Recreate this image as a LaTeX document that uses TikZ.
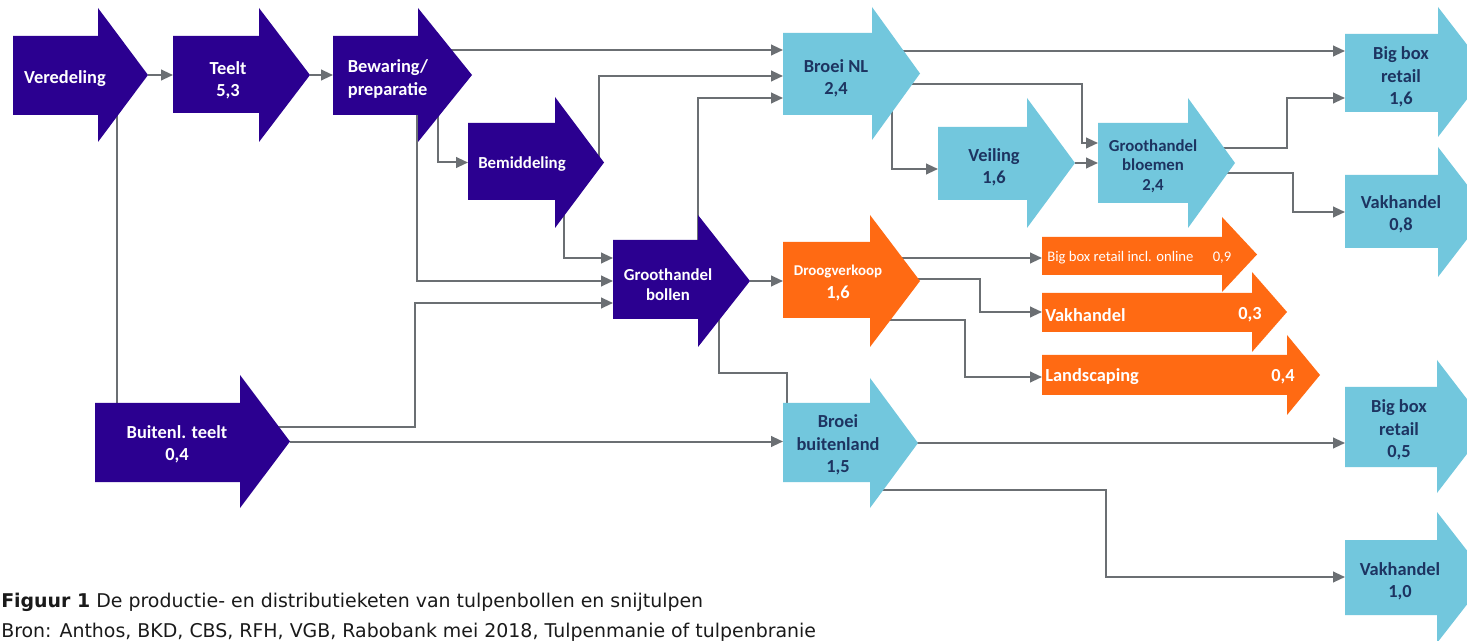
\documentclass[tikz,border=0pt]{standalone}
\usepackage{fontspec}
\setmainfont{Carlito}
\newfontfamily\capfont{DejaVu Sans}
\usetikzlibrary{arrows.meta,backgrounds}
\definecolor{cpurple}{HTML}{2B0090}
\definecolor{cblue}{HTML}{72C7DD}
\definecolor{corange}{HTML}{FF6A13}
\definecolor{cnavy}{HTML}{1D3461}
\definecolor{cline}{HTML}{6B6F73}
\definecolor{ccap}{HTML}{1A1A1A}
% name, x1 (body left), x2 (head start), y1 (body top), y2 (body bottom), head top, head bottom, tip x, fill
\newcommand\blockarr[9]{%
  \fill[#9] (#2,#4) -- (#3,#4) -- (#3,#6) -- (#8,{(#6+#7)/2}) -- (#3,#7) -- (#3,#5) -- (#2,#5) -- cycle;
  \pgfmathsetmacro\bwid{(#3-#2)*0.75}%
  \pgfmathsetmacro\bhei{(#5-#4)*0.75}%
  \node[inner sep=0pt, outer sep=0pt, minimum width=\bwid pt, minimum height=\bhei pt, anchor=north west] (#1) at (#2,#4) {};
  \coordinate (#1-tip) at (#8,{(#6+#7)/2});
}
\tikzset{
  link/.style={draw=cline, line width=1.5pt, -{Triangle[length=9pt,width=8pt]}},
  plain/.style={draw=cline, line width=1.5pt},
  wl/.style={inner sep=0pt, align=center, text=white, font=\bfseries\fontsize{13.8}{16.8}\selectfont},
  bl/.style={inner sep=0pt, align=center, text=cnavy, font=\bfseries\fontsize{13.8}{16.8}\selectfont},
  wls/.style={inner sep=0pt, align=center, text=white, font=\bfseries\fontsize{12.6}{15}\selectfont},
  bls/.style={inner sep=0pt, align=center, text=cnavy, font=\bfseries\fontsize{12.6}{14.5}\selectfont},
  captext/.style={anchor=base west, inner sep=0pt, text=ccap, font=\capfont\fontsize{14.2}{16}\selectfont},
}
\begin{document}
\begin{tikzpicture}[x=0.75pt, y=-0.75pt]
\useasboundingbox (0,0) rectangle (1467,641);
\clip (0,0) rectangle (1467,641);
% ---- block arrows
\blockarr{ver}{13}{98}{36}{115}{8}{142}{148}{cpurple}
\blockarr{teelt}{173}{259}{36}{113}{8}{142}{310}{cpurple}
\blockarr{bew}{333}{418}{36}{115}{8}{142}{472}{cpurple}
\blockarr{bem}{468}{555}{123}{200}{97}{228}{604}{cpurple}
\blockarr{bnl}{783}{872}{33}{115}{7}{140}{920}{cblue}
\blockarr{veil}{938}{1027}{127}{200}{98}{228}{1075}{cblue}
\blockarr{ghbl}{1098}{1188}{123}{203}{98}{228}{1235}{cblue}
\blockarr{bbr1}{1345}{1438}{34}{112}{7}{137}{1488}{cblue}
\blockarr{vak1}{1345}{1438}{175}{248}{147}{277}{1488}{cblue}
\blockarr{ghb}{613}{698}{240}{319}{215}{347}{750}{cpurple}
\blockarr{droog}{783}{870}{242}{318}{215}{347}{920}{corange}
\blockarr{bbo}{1042}{1222}{237}{275}{217}{292}{1257}{corange}
\blockarr{vak3}{1042}{1252}{293}{332}{272}{352}{1287}{corange}
\blockarr{land}{1042}{1287}{355}{395}{335}{415}{1320}{corange}
\blockarr{bbu}{783}{870}{403}{482}{378}{508}{918}{cblue}
\blockarr{buit}{95}{240}{403}{482}{375}{508}{290}{cpurple}
\blockarr{bbr2}{1345}{1437}{387}{467}{360}{493}{1488}{cblue}
\blockarr{vak2}{1345}{1437}{540}{615}{512}{643}{1488}{cblue}
% ---- connectors, behind the arrows
\begin{scope}[on background layer]
\fill[white] (0,0) rectangle (1467,641);
\draw[link] (ver-tip) -- (teelt.west |- ver-tip);
\draw[link] (teelt-tip) -- (bew.west |- teelt-tip);
\draw[plain] (ver.center -| 117,0) -- (buit.north -| 117,0);
\draw[link] (bew.center |- 0,50) -- (bnl.west |- 0,50);
\draw[link] (bem.center -| 599,0) |- (bnl.west |- 0,76);
\draw[link] (ghb.center -| 698,0) |- (bnl.west |- 0,98);
\draw[link] (bew.center -| 438,0) |- (bem.west |- bem-tip);
\draw[link] (bew.center -| 417,0) |- (ghb.west |- 0,281);
\draw[link] (bem.center -| 564,0) |- (ghb.west |- 0,258);
\draw[link] (buit.center |- 0,427) -| (415,303) -- (ghb.west |- 0,303);
\draw[link] (buit-tip) -- (bbu.west |- buit-tip);
\draw[link] (ghb-tip) -- (droog.west |- ghb-tip);
\draw[plain] (ghb.center -| 719,0) |- (787,373) -- (bbu.north -| 787,0);
\draw[link] (bnl.center |- 0,51) -- (bbr1.west |- 0,51);
\draw[link] (bnl.center |- 0,84) -| (1082,143) -- (ghbl.west |- 0,143);
\draw[link] (bnl.center -| 892,0) |- (veil.west |- 0,169);
\draw[link] (veil-tip) -- (ghbl.west |- veil-tip);
\draw[link] (ghbl.center |- 0,148) -| (1287,98) -- (bbr1.west |- 0,98);
\draw[link] (ghbl.center |- 0,173) -| (1293,212) -- (vak1.west |- 0,212);
\draw[link] (droog.center |- 0,258) -- (bbo.west |- 0,258);
\draw[link] (droog.center |- 0,279) -| (980,312) -- (vak3.west |- 0,312);
\draw[link] (droog.east |- 0,320) -| (965,377) -- (land.west |- 0,377);
\draw[link] (bbu.center |- 0,443) -- (bbr2.west |- 0,443);
\draw[link] (bbu.east |- 0,490) -| (1106,577) -- (vak2.west |- 0,577);
\end{scope}
% ---- labels
\node[wl] (ver-l) at (65,79) {Veredeling};
\node[wl] (teelt-l) at (228,80) {Teelt\\5,3};
\node[wl, align=left] (bew-l) at (388,79) {Bewaring/\\preparatie};
\node[wls] (bem-l) at (522,164) {Bemiddeling};
\node[bl] (bnl-l) at (836,78) {Broei NL\\2,4};
\node[bl] (veil-l) at (994,167) {Veiling\\1,6};
\node[bls] (ghbl-l) at (1153,166) {Groothandel\\bloemen\\2,4};
\node[bl] (bbr1-l) at (1401,77) {Big box\\retail\\1,6};
\node[bl] (vak1-l) at (1401,214) {Vakhandel\\0,8};
\node[wls] (ghb-l) at (668,285) {Groothandel\\bollen};
\node[wl] (droog-l) at (838,283) {{\fontsize{11.2}{13}\selectfont Droogverkoop}\\1,6};
\node[wl, anchor=west, font=\fontsize{11}{13}\selectfont] (bbo-l) at (1047,258) {Big box retail incl. online};
\node[wl, font=\fontsize{11}{13}\selectfont] (bbo-n) at (1222,258) {0,9};
\node[wl, anchor=west] (vak3-l) at (1045,315) {Vakhandel};
\node[wl] (vak3-n) at (1250,315) {0,3};
\node[wl, anchor=west] (land-l) at (1045,377) {Landscaping};
\node[wl] (land-n) at (1283,377) {0,4};
\node[bl] (bbu-l) at (838,445) {Broei\\buitenland\\1,5};
\node[wl] (buit-l) at (177,444) {Buitenl. teelt\\0,4};
\node[bl] (bbr2-l) at (1399,430) {Big box\\retail\\0,5};
\node[bl] (vak2-l) at (1400,581) {Vakhandel\\1,0};
% ---- caption
\node[captext] (cap1) at (1,607) {\textbf{Figuur 1} De productie- en distributieketen van tulpenbollen en snijtulpen};
\node[captext] (cap2) at (1,637) {Bron: Anthos, BKD, CBS, RFH, VGB, Rabobank mei 2018, Tulpenmanie of tulpenbranie};
\end{tikzpicture}
\end{document}
